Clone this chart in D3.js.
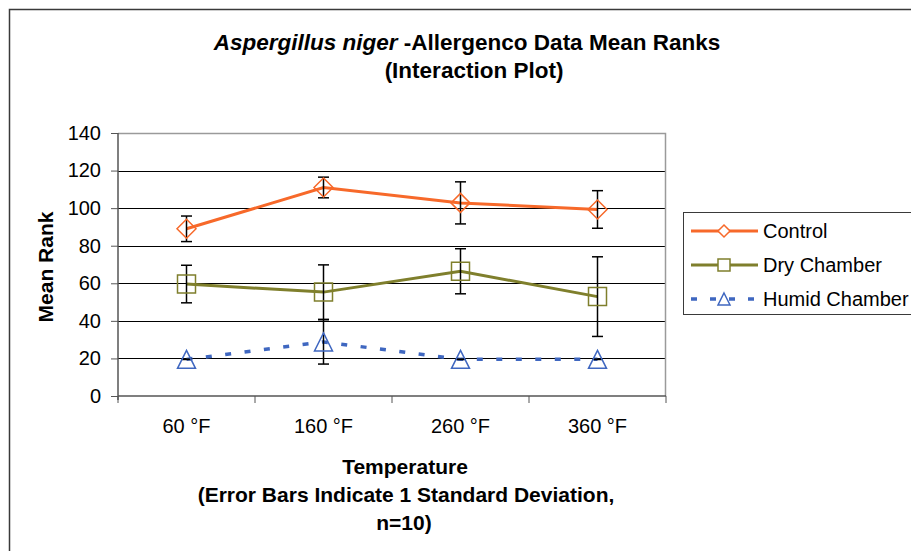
<!DOCTYPE html>
<html><head><meta charset="utf-8">
<script src="https://cdn.jsdelivr.net/npm/d3@7"></script>
<style>body{margin:0;background:#fff}svg{display:block;font-family:"Liberation Sans",Arial,sans-serif}</style>
</head><body>
<svg id="c" width="911" height="551"></svg>
<script>
const categories = ["60 °F","160 °F","260 °F","360 °F"];
const seriesNames = ["Control","Dry Chamber","Humid Chamber"];
const controlMean = [89, 111, 102.8, 99.3];
const controlSD   = [6.8, 5.5, 11.2, 10];
const dryMean     = [59.6, 55.3, 66.4, 52.9];
const drySD       = [10, 14.5, 12, 21.2];
const humidMean   = [19.5, 28.8, 19.5, 19.5];
const humidSD     = [0, 11.8, 0, 0];
const yTicks = [0,20,40,60,80,100,120,140];

const series = [
  {name: seriesNames[0], mean: controlMean, sd: controlSD, color: "#f7692a", marker: "diamond", dash: null},
  {name: seriesNames[1], mean: dryMean, sd: drySD, color: "#7f7f2c", marker: "square", dash: null},
  {name: seriesNames[2], mean: humidMean, sd: humidSD, color: "#3f67c0", marker: "triangle", dash: "6,13.5"}
];

const FF = "Liberation Sans, Arial, sans-serif";
const svg = d3.select("#c");
const L = 118, R = 666, T = 133, B = 396;
const x = d3.scaleBand().domain(categories).range([L, R]).padding(0);
const cx = c => x(c) + x.bandwidth()/2;
const y = d3.scaleLinear().domain([0,140]).range([B, T]);

// outer border
svg.append("rect").attr("x",9.5).attr("y",9.5).attr("width",1000).attr("height",1000)
  .attr("fill","none").attr("stroke","#3a3a3a").attr("stroke-width",1.5);

// title
const title = svg.append("text").attr("x",467).attr("y",50).attr("text-anchor","middle")
  .attr("font-size",22.5).attr("font-weight","bold").attr("fill","#000");
title.append("tspan").attr("font-style","italic").text("Aspergillus niger");
title.append("tspan").text(" -Allergenco Data Mean Ranks");
svg.append("text").attr("x",474).attr("y",78).attr("text-anchor","middle")
  .attr("font-size",22.5).attr("font-weight","bold").text("(Interaction Plot)");

// gridlines
const g = svg.append("g");
g.selectAll("line.grid").data(yTicks.filter(t => t>0 && t<140)).join("line")
  .attr("x1",L).attr("x2",R).attr("y1",d=>Math.round(y(d))+0.5).attr("y2",d=>Math.round(y(d))+0.5)
  .attr("stroke","#000").attr("stroke-width",1);
// plot border top/right
svg.append("path").attr("d",`M${L},${T+0.5}H${R-0.5}V${B}`).attr("fill","none").attr("stroke","#9a9a9a").attr("stroke-width",1.5);

// axes
const yAxis = d3.axisLeft(y).tickValues(yTicks).tickSize(7).tickPadding(10);
const ya = svg.append("g").attr("transform",`translate(${L},0)`).call(yAxis);
ya.select(".domain").attr("stroke","#555").attr("stroke-width",1.5).attr("d",`M0,${T}V${B+4}`);
ya.selectAll(".tick line").attr("stroke","#555");
ya.selectAll(".tick text").attr("font-size",20).attr("fill","#000").attr("font-family",FF);

const xAxis = d3.axisBottom(x).tickSize(0).tickPadding(23);
const xa = svg.append("g").attr("transform",`translate(0,${B})`).call(xAxis);
xa.select(".domain").attr("stroke","#555").attr("stroke-width",1.5).attr("d",`M${L},0H${R}`);
xa.selectAll(".tick text").attr("font-size",20).attr("fill","#000").attr("font-family",FF);
// boundary ticks
const bounds = categories.map(c => x(c)).concat([R]);
xa.selectAll("line.bt").data(bounds).join("line").attr("class","bt")
  .attr("x1",d=>d).attr("x2",d=>d).attr("y1",0).attr("y2",7).attr("stroke","#555").attr("stroke-width",1);

// axis titles
svg.append("text").attr("transform","translate(53,267) rotate(-90)").attr("text-anchor","middle")
  .attr("font-size",21).attr("font-weight","bold").text("Mean Rank");
svg.append("text").attr("x",405).attr("y",474).attr("text-anchor","middle").attr("font-size",21).attr("font-weight","bold").text("Temperature");
svg.append("text").attr("x",406).attr("y",502).attr("text-anchor","middle").attr("font-size",21).attr("font-weight","bold").text("(Error Bars Indicate 1 Standard Deviation,");
svg.append("text").attr("x",404).attr("y",530).attr("text-anchor","middle").attr("font-size",21).attr("font-weight","bold").text("n=10)");

function markerPath(type, s) {
  if (type === "diamond") return `M0,${-s}L${s},0L0,${s}L${-s},0Z`;
  if (type === "square") return `M${-s},${-s}H${s}V${s}H${-s}Z`;
  return `M0,${-s}L${s},${s}H${-s}Z`;
}

const line = d3.line().x(d => cx(d.c)).y(d => y(d.v));
series.forEach(s => {
  const pts = categories.map((c,i) => ({c, v: s.mean[i], sd: s.sd[i]}));
  svg.append("path").datum(pts).attr("d", line).attr("fill","none").attr("stroke", s.color)
    .attr("stroke-width", s.dash ? 3.5 : 3).attr("stroke-dasharray", s.dash);
  s.pts = pts;
});
series.forEach(s => {
  const eb = svg.append("g");
  s.pts.forEach(p => {
    const x0 = cx(p.c), y1 = y(p.v + p.sd), y2 = y(p.v - p.sd);
    eb.append("line").attr("x1",x0).attr("x2",x0).attr("y1",y1).attr("y2",y2).attr("stroke","#000").attr("stroke-width",1.5);
    [y1,y2].forEach(yy => eb.append("line").attr("x1",x0-5.5).attr("x2",x0+5.5).attr("y1",yy).attr("y2",yy).attr("stroke","#000").attr("stroke-width",1.5));
  });
});
series.forEach(s => {
  const sz = s.marker === "diamond" ? 9.5 : 9;
  svg.append("g").selectAll("path").data(s.pts).join("path")
    .attr("transform", d => `translate(${cx(d.c)},${y(d.v)})`)
    .attr("d", markerPath(s.marker, sz)).attr("fill","none").attr("stroke", s.color).attr("stroke-width",1.5);
});

// legend
svg.append("rect").attr("x",683.5).attr("y",212.5).attr("width",300).attr("height",102)
  .attr("fill","#fff").attr("stroke","#3a3a3a").attr("stroke-width",1);
series.forEach((s,i) => {
  const ly = 231 + i*34;
  svg.append("line").attr("x1",691).attr("x2",758).attr("y1",ly).attr("y2",ly)
    .attr("stroke",s.color).attr("stroke-width", s.dash ? 3.5 : 3).attr("stroke-dasharray", s.dash ? "6,13" : null);
  svg.append("path").attr("transform",`translate(724,${ly})`).attr("d",markerPath(s.marker, s.marker==="diamond"?6:6))
    .attr("fill","#fff").attr("stroke",s.color).attr("stroke-width",1.5);
  svg.append("text").attr("x",763).attr("y",ly+7).attr("font-size",20).text(s.name);
});
</script>
</body></html>
